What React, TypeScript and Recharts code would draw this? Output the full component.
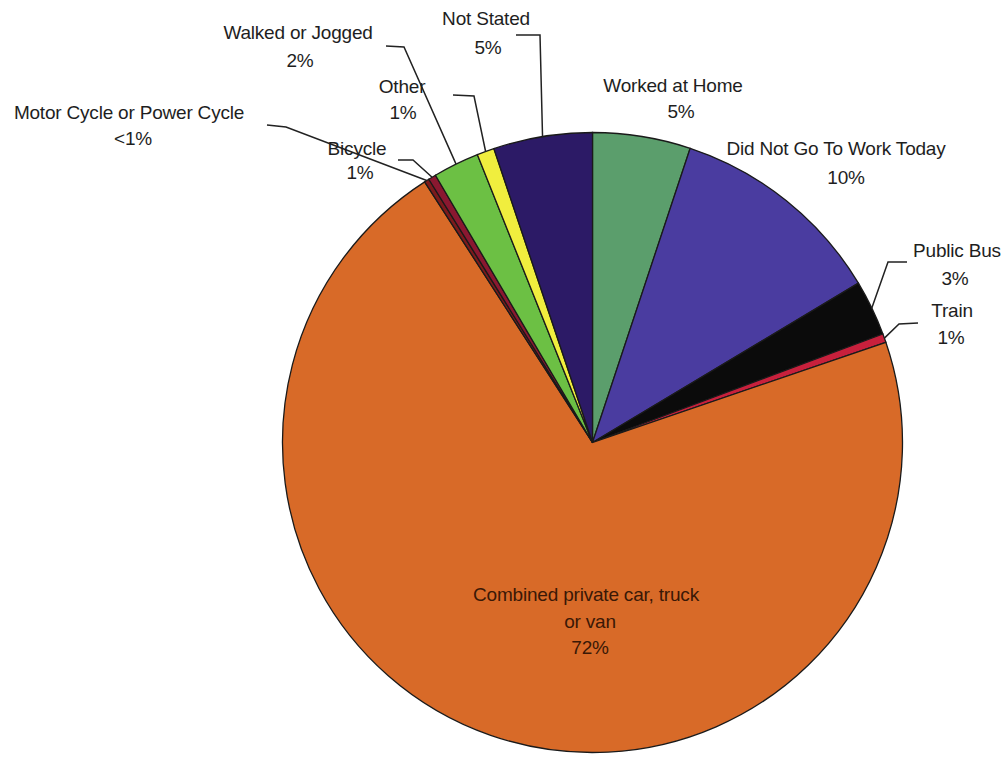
import { PieChart, Pie, Cell } from 'recharts'

// slice order: clockwise from 12 o'clock
const categories = [
  'Worked at Home',
  'Did Not Go To Work Today',
  'Public Bus',
  'Train',
  'Combined private car, truck or van',
  'Motor Cycle or Power Cycle',
  'Bicycle',
  'Walked or Jogged',
  'Other',
  'Not Stated',
]

// estimated shares (%)
const shares = [5.1, 11.3, 2.9, 0.45, 71.1, 0.25, 0.4, 2.4, 0.9, 5.15]

// printed labels
const shareLabels = ['5%', '10%', '3%', '1%', '72%', '<1%', '1%', '2%', '1%', '5%']

const COLORS = [
  '#5b9e6c', // green
  '#4a3ca0', // blue violet
  '#0b0b0b', // black
  '#c8203c', // red
  '#d86a28', // orange
  '#7c1a1c', // dark red
  '#8a1830', // wine
  '#6cc044', // light green
  '#f0ee3e', // yellow
  '#2c1a66', // navy
]

// label placement: text lines (centre x, centre y) and optional leader elbows
type LabelLayout = {
  lines: { text: string; x: number; y: number }[]
  leader?: [number, number][]
}

const LAYOUT: LabelLayout[] = [
  { lines: [{ text: 'Worked at Home', x: 673, y: 85 }, { text: '5%', x: 681, y: 111 }] },
  { lines: [{ text: 'Did Not Go To Work Today', x: 836, y: 148 }, { text: '10%', x: 846, y: 177 }] },
  {
    lines: [{ text: 'Public Bus', x: 957, y: 250 }, { text: '3%', x: 955, y: 278 }],
    leader: [[888, 262], [907, 262]],
  },
  {
    lines: [{ text: 'Train', x: 952, y: 310 }, { text: '1%', x: 951, y: 337 }],
    leader: [[899, 324], [918, 323]],
  },
  {
    lines: [
      { text: 'Combined private car, truck', x: 586, y: 594 },
      { text: 'or van', x: 590, y: 621 },
      { text: '72%', x: 590, y: 647 },
    ],
  },
  {
    lines: [{ text: 'Motor Cycle or Power Cycle', x: 129, y: 112 }, { text: '<1%', x: 133, y: 138 }],
    leader: [[286, 127], [267, 125]],
  },
  {
    lines: [{ text: 'Bicycle', x: 357, y: 148 }, { text: '1%', x: 360, y: 172 }],
    leader: [[413, 160], [398, 160]],
  },
  {
    lines: [{ text: 'Walked or Jogged', x: 298, y: 32 }, { text: '2%', x: 300, y: 60 }],
    leader: [[404, 47], [386, 46]],
  },
  {
    lines: [{ text: 'Other', x: 402, y: 86 }, { text: '1%', x: 403, y: 112 }],
    leader: [[474, 96], [453, 95]],
  },
  {
    lines: [{ text: 'Not Stated', x: 486, y: 18 }, { text: '5%', x: 488, y: 47 }],
    leader: [[540, 35], [516, 35]],
  },
]

const data = categories.map((name, i) => ({ name, value: shares[i], label: shareLabels[i] }))

const RAD = Math.PI / 180

function renderLabel(props: any) {
  const { cx, cy, midAngle, outerRadius, index } = props
  const layout = LAYOUT[index]
  if (!layout) return null
  let leader = null
  if (layout.leader) {
    const ax = cx + outerRadius * Math.cos(-midAngle * RAD)
    const ay = cy + outerRadius * Math.sin(-midAngle * RAD)
    const pts = [[ax, ay], ...layout.leader].map((p) => p.join(',')).join(' ')
    leader = <polyline points={pts} fill="none" stroke="#222" strokeWidth={1.5} />
  }
  return (
    <g key={`lbl-${index}`}>
      {leader}
      {layout.lines.map((l, j) => (
        <text
          key={j}
          x={l.x}
          y={l.y}
          textAnchor="middle"
          dominantBaseline="central"
          fontFamily="'Liberation Sans', Arial, sans-serif"
          fontSize={19}
          letterSpacing={-0.2}
          fill={index === 4 ? '#3a1806' : '#1e1e1e'}
        >
          {l.text}
        </text>
      ))}
    </g>
  )
}

export default function App() {
  return (
    <div style={{ position: 'absolute', left: 0, top: 0, width: 1004, height: 757, background: '#fff' }}>
      <PieChart width={1004} height={757} margin={{ top: 0, right: 0, bottom: 0, left: 0 }}>
        <Pie
          data={data}
          dataKey="value"
          nameKey="name"
          cx={592.5}
          cy={442.5}
          outerRadius={310}
          startAngle={90}
          endAngle={-270}
          stroke="#1a1a1a"
          strokeWidth={1.3}
          label={renderLabel}
          labelLine={false}
          isAnimationActive={false}
        >
          {data.map((d, i) => (
            <Cell key={d.name} fill={COLORS[i]} />
          ))}
        </Pie>
      </PieChart>
    </div>
  )
}
